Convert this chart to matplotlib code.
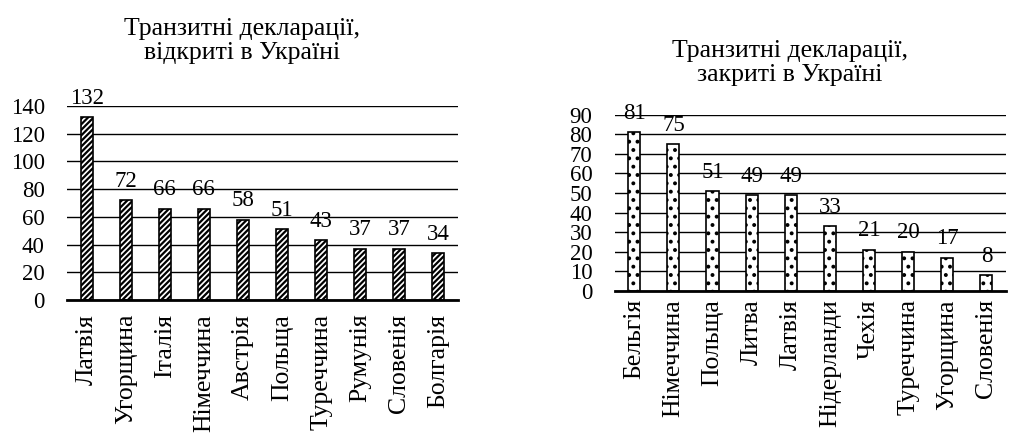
import matplotlib.pyplot as plt

plt.rcParams['font.family'] = ['Liberation Serif', 'DejaVu Serif']
plt.rcParams['hatch.linewidth'] = 1.6

open_countries = ['Латвія', 'Угорщина', 'Італія', 'Німеччина', 'Австрія',
                  'Польща', 'Туреччина', 'Румунія', 'Словенія', 'Болгарія']
open_values = [132, 72, 66, 66, 58, 51, 43, 37, 37, 34]

closed_countries = ['Бельгія', 'Німеччина', 'Польща', 'Литва', 'Латвія',
                    'Нідерланди', 'Чехія', 'Туреччина', 'Угорщина', 'Словенія']
closed_values = [81, 75, 51, 49, 49, 33, 21, 20, 17, 8]

fig = plt.figure(figsize=(10.11, 4.36), dpi=100)
ax1 = fig.add_axes([0.0663, 0.312, 0.3867, 0.445])
ax2 = fig.add_axes([0.608, 0.333, 0.387, 0.404])


def draw(ax, cats, vals, ymax, step, hatch, xpad):
    x = range(len(cats))
    ax.bar(x, vals, width=0.31, color='white', edgecolor='black',
           linewidth=1.2, hatch=hatch, zorder=3)
    for i, v in zip(x, vals):
        ax.annotate(str(v), (i, v), xytext=(0, 6), textcoords='offset points',
                    ha='center', va='bottom', fontsize=16.5, zorder=4)
    ax.set_ylim(0, ymax)
    ax.set_xlim(-0.5, len(cats) - 0.5)
    ax.set_yticks(range(0, ymax + 1, step))
    ax.yaxis.grid(True, color='black', linewidth=1.0, zorder=0)
    ax.set_xticks(list(x))
    ax.set_xticklabels(cats, rotation=90, fontsize=18.5)
    ax.tick_params(axis='y', labelsize=16.5, length=0, pad=16)
    ax.tick_params(axis='x', length=0, pad=xpad)
    for s in ['top', 'left', 'right']:
        ax.spines[s].set_visible(False)
    ax.spines['bottom'].set_linewidth(2)
    ax.spines['bottom'].set_zorder(5)


draw(ax1, open_countries, open_values, 140, 20, '//////', 10)
draw(ax2, closed_countries, closed_values, 90, 10, '..', 6)

fig.text(242 / 1011, 1 - 64 / 436, 'Транзитні декларації,\nвідкриті в Україні',
         ha='center', va='bottom', fontsize=18.5, linespacing=1.1)
fig.text(790 / 1011, 1 - 86 / 436, 'Транзитні декларації,\nзакриті в Україні',
         ha='center', va='bottom', fontsize=18.5, linespacing=1.1)

fig.savefig('out.png', dpi=100)
